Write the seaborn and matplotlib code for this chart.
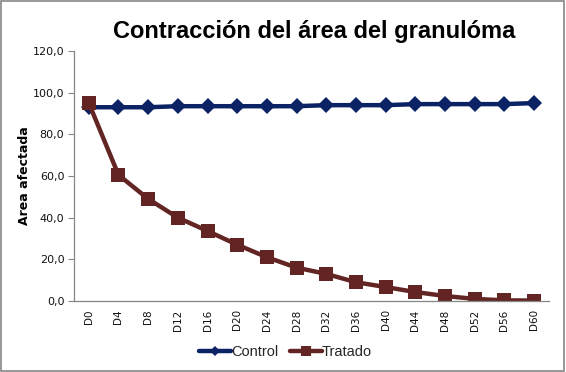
import numpy as np
import pandas as pd
import matplotlib
matplotlib.use("Agg")
import matplotlib.pyplot as plt
import seaborn as sns
from matplotlib.ticker import FuncFormatter

sns.set_theme(style="white")
plt.rcParams["font.family"] = ["DejaVu Sans"]

days = ["D0", "D4", "D8", "D12", "D16", "D20", "D24", "D28",
        "D32", "D36", "D40", "D44", "D48", "D52", "D56", "D60"]
control = [93.0, 93.0, 93.0, 93.5, 93.5, 93.5, 93.5, 93.5,
           94.0, 94.0, 94.0, 94.5, 94.5, 94.5, 94.5, 95.0]
tratado = [95.0, 60.5, 49.0, 40.0, 33.6, 27.0, 21.0, 16.0,
           13.0, 9.0, 6.7, 4.3, 2.4, 1.0, 0.3, 0.2]

df = pd.DataFrame({
    "dia": days * 2,
    "area": control + tratado,
    "grupo": ["Control"] * len(days) + ["Tratado"] * len(days),
})

fig = plt.figure(figsize=(5.66, 3.72), dpi=100)
ax = fig.add_axes([0.1307, 0.1909, 0.839, 0.672])

sns.lineplot(data=df, x="dia", y="area", hue="grupo", style="grupo",
             markers={"Control": "D", "Tratado": "s"}, dashes=False,
             palette={"Control": "#0b2264", "Tratado": "#632523"},
             linewidth=3.2, markersize=8.5, markeredgewidth=0, ax=ax, sort=False)

# squares a bit bigger than the diamonds
for line in ax.get_lines():
    if line.get_marker() == "s":
        line.set_markersize(9.5)

ax.set_xlim(-0.5, len(days) - 0.5)
ax.set_ylim(0, 120)
ax.set_yticks(np.arange(0, 121, 20))
ax.yaxis.set_major_formatter(FuncFormatter(lambda v, p: f"{v:.1f}".replace(".", ",")))
ax.tick_params(axis="x", labelrotation=90, labelsize=7.5, length=0, pad=6)
ax.tick_params(axis="y", labelsize=8, length=4, width=0.8, color="#868686",
               left=True, pad=3)
for lab in ax.get_xticklabels() + ax.get_yticklabels():
    lab.set_color("#111111")

for s in ["top", "right"]:
    ax.spines[s].set_visible(False)
for s in ["left", "bottom"]:
    ax.spines[s].set_color("#868686")
    ax.spines[s].set_linewidth(0.9)

ax.set_xlabel("")
ax.set_ylabel("Area afectada", fontsize=9, fontweight="bold", labelpad=1,
              color="black")

fig.text(0.555, 0.915, "Contracción del área del granulóma", ha="center",
         va="center", fontsize=17, fontweight="bold", family="Liberation Sans",
         color="black")

handles, labels = ax.get_legend_handles_labels()
leg = ax.legend(handles, labels, loc="center", bbox_to_anchor=(0.445, -0.205),
                ncol=2, frameon=False, handlelength=2.2,
                handletextpad=0.0, columnspacing=0.8,
                prop={"family": "Liberation Sans", "size": 10.5})
for h in leg.legend_handles:
    h.set_markersize(5.5 if h.get_marker() == "D" else 7)

# outer chart border
fig.patches.append(plt.Rectangle((0.002, 0.003), 0.995, 0.993, transform=fig.transFigure,
                                 fill=False, edgecolor="#868686", linewidth=1.2))

fig.savefig("out.png", dpi=100)
